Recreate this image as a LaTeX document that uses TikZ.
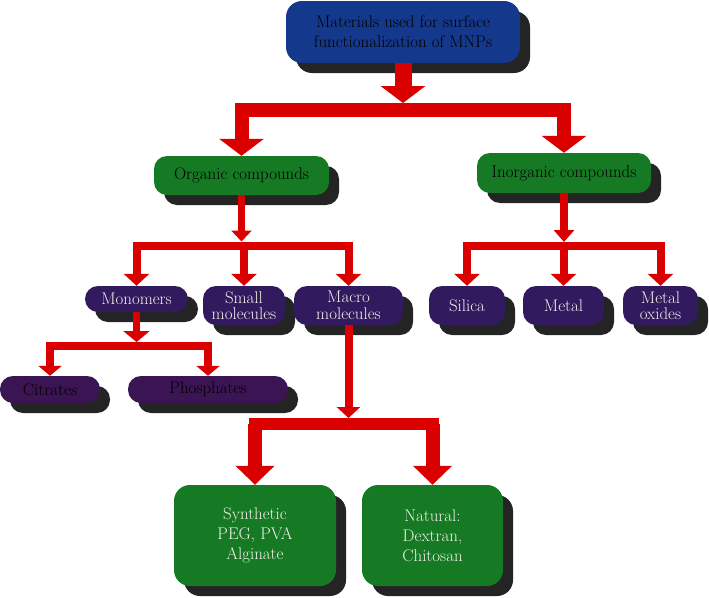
\documentclass[tikz,border=0pt]{standalone}
\usepackage{xcolor}
\usepackage{tikz}
\usetikzlibrary{arrows.meta,shadows}
\definecolor{TopBlue}{HTML}{14398C}
\definecolor{LeafGreen}{HTML}{157A23}
\definecolor{SubPurple}{HTML}{321A5E}
\definecolor{SaltPurple}{HTML}{3B1454}
\definecolor{ShadowGray}{HTML}{242424}
\definecolor{FlowRed}{HTML}{DB0000}
\definecolor{PaleText}{HTML}{F2F0EA}

\begin{document}
\begin{tikzpicture}[
  x=1pt, y=-1pt,
  box/.style={rounded corners=13pt, inner sep=0pt, align=center,
    font=\fontsize{16.9}{20}\selectfont,
    copy shadow={shadow xshift=10pt, shadow yshift=-10pt, fill=ShadowGray, draw=none}},
  blue box/.style={box, fill=TopBlue, rounded corners=16pt},
  green box/.style={box, fill=LeafGreen},
  purple box/.style={box, fill=SubPurple, text=PaleText, font=\fontsize{16.9}{16.5}\selectfont},
  salt box/.style={box, fill=SaltPurple},
  big box/.style={box, fill=LeafGreen, text=PaleText, rounded corners=16pt},
  flow/.style n args={3}{draw=FlowRed, line width=#1, -{Triangle[width=#2,length=#3]}},
  bar/.style={draw=FlowRed, line width=#1, line cap=rect}
]
  \useasboundingbox (0,0) rectangle (709,597);

  \node[blue box, minimum width=234pt, minimum height=62pt] (top) at (403,32) {Materials used for surface\\functionalization of MNPs};
  \node[green box, minimum width=175pt, minimum height=39pt] (organic) at (241.5,175.5) {Organic compounds};
  \node[green box, minimum width=174pt, minimum height=40pt] (inorganic) at (564,173) {Inorganic compounds};

  \node[purple box, minimum width=103pt, minimum height=26pt] (monomers) at (136.5,299) {Monomers};
  \node[purple box, minimum width=82pt, minimum height=39pt] (small) at (244,305.5) {Small\\molecules};
  \node[purple box, minimum width=109pt, minimum height=39pt] (macro) at (348.5,305.5) {Macro\\molecules};
  \node[purple box, minimum width=76pt, minimum height=39pt] (silica) at (467,305.5) {Silica};
  \node[purple box, minimum width=81pt, minimum height=39pt] (metal) at (563.5,305.5) {Metal};
  \node[purple box, minimum width=75pt, minimum height=39pt] (oxides) at (660.5,305.5) {Metal\\oxides};

  \node[salt box, minimum width=100pt, minimum height=27pt] (citrates) at (50,389.5) {Citrates};
  \node[salt box, minimum width=160pt, minimum height=27pt] (phosphates) at (208,389.5) {Phosphates};

  \node[big box, minimum width=162pt, minimum height=101pt] (synthetic) at (255,535.5) {Synthetic\\PEG, PVA\\Alginate};
  \node[big box, minimum width=141pt, minimum height=101pt] (natural) at (432.5,535.5) {Natural:\\Dextran,\\Chitosan};

  \coordinate (topBar) at (403,110);
  \coordinate (orgBar) at (241.5,245.5);
  \coordinate (inoBar) at (564,246);
  \coordinate (monBar) at (136.5,346);
  \coordinate (macBar) at (348.5,424);

  \draw[flow={17pt}{44pt}{17pt}] (top.south) -- ([yshift=7pt]topBar);
  \draw[bar=14pt] (organic.north |- topBar) -- (inorganic.north |- topBar);
  \draw[flow={14pt}{44pt}{17pt}] (organic.north |- topBar) -- (organic.north);
  \draw[flow={14pt}{44pt}{17pt}] (inorganic.north |- topBar) -- (inorganic.north);

  \draw[flow={7pt}{20pt}{11pt}] (organic.south) -- ([yshift=4pt]orgBar);
  \draw[bar=8pt] (monomers.north |- orgBar) -- (macro.north |- orgBar);
  \draw[flow={8pt}{25pt}{12pt}] (monomers.north |- orgBar) -- (monomers.north);
  \draw[flow={8pt}{25pt}{12pt}] (small.north |- orgBar) -- (small.north);
  \draw[flow={8pt}{25pt}{12pt}] (macro.north |- orgBar) -- (macro.north);

  \draw[flow={8pt}{20pt}{12pt}] (inorganic.south) -- ([yshift=4pt]inoBar);
  \draw[bar=8pt] (silica.north |- inoBar) -- (oxides.north |- inoBar);
  \draw[flow={8pt}{25pt}{12pt}] (silica.north |- inoBar) -- (silica.north);
  \draw[flow={8pt}{25pt}{12pt}] (metal.north |- inoBar) -- (metal.north);
  \draw[flow={8pt}{25pt}{12pt}] (oxides.north |- inoBar) -- (oxides.north);

  \draw[flow={7pt}{26pt}{11pt}] (monomers.south) -- ([yshift=4pt]monBar);
  \draw[bar=8pt] (citrates.north |- monBar) -- (phosphates.north |- monBar);
  \draw[flow={8pt}{23pt}{10pt}] (citrates.north |- monBar) -- (citrates.north);
  \draw[flow={8pt}{23pt}{10pt}] (phosphates.north |- monBar) -- (phosphates.north);

  \draw[flow={8pt}{23pt}{11pt}] (macro.south) -- ([yshift=6pt]macBar);
  \draw[bar=12pt] (synthetic.north |- macBar) -- (natural.north |- macBar);
  \draw[flow={14pt}{38pt}{19pt}] (synthetic.north |- macBar) -- (synthetic.north);
  \draw[flow={14pt}{38pt}{19pt}] (natural.north |- macBar) -- (natural.north);
\end{tikzpicture}
\end{document}
